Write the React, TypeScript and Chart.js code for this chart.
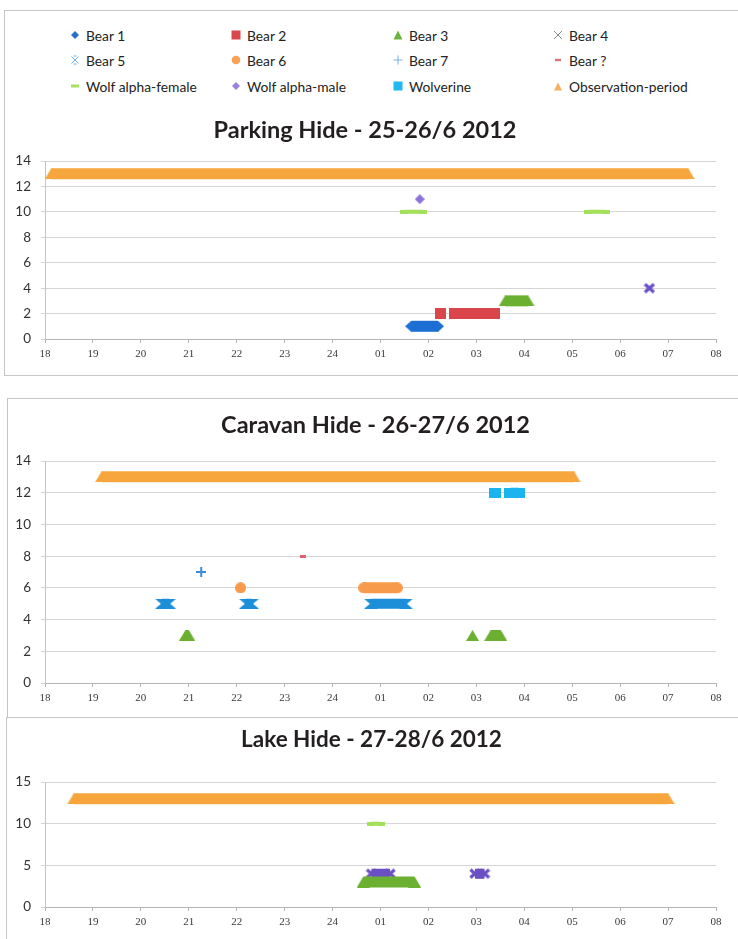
import React, { useEffect, useRef } from 'react';
import { Chart, registerables } from 'chart.js';
Chart.register(...registerables);

// ---------- data ----------
const hourLabels = ['18', '19', '20', '21', '22', '23', '24', '01', '02', '03', '04', '05', '06', '07', '08'];

const seriesNames = ['Bear 1', 'Bear 2', 'Bear 3', 'Bear 4', 'Bear 5', 'Bear 6', 'Bear 7', 'Bear ?', 'Wolf alpha-female', 'Wolf alpha-male', 'Wolverine', 'Observation-period'];
const seriesLevels = [1, 2, 3, 4, 5, 6, 7, 8, 10, 11, 12, 13];
const seriesColors = ['#1d6fd4', '#d9454a', '#6cb032', '#6a50c4', '#1c8fd8', '#f79a4c', '#3d8ad8', '#e0606c', '#a4e05a', '#8c74dc', '#1cb4ee', '#f7a63e'];

// intervals [start, end] in hours after 18:00
const parkingBear1 = [[7.64, 8.2]];
const parkingBear2 = [[8.25, 8.25], [8.54, 9.37]];
const parkingBear3 = [[9.6, 10.08]];
const parkingBear4 = [[12.61, 12.61]];
const parkingWolfFemale = [[7.48, 7.89], [11.33, 11.7]];
const parkingWolfMale = [[7.82, 7.82]];
const parkingObservation = [[0.13, 13.42]];

const caravanBear3 = [[2.93, 3.0], [8.92, 8.92], [9.3, 9.51]];
const caravanBear5 = [[2.44, 2.59], [4.19, 4.32], [6.8, 7.53]];
const caravanBear6 = [[4.08, 4.08], [6.65, 7.35]];
const caravanBear7 = [[3.26, 3.26]];
const caravanBearUnknown = [[5.38, 5.38]];
const caravanWolverine = [[9.38, 9.38], [9.71, 9.88]];
const caravanObservation = [[1.18, 11.04]];

const lakeBear3 = [[6.64, 7.71]];
const lakeBear4 = [[6.81, 7.2], [8.97, 9.17]];
const lakeWolfFemale = [[6.8, 7.0]];
const lakeObservation = [[0.6, 13.0]];

// ---------- marker styles ----------
type MarkerSpec = { kind: string; w: number; h: number; band: number };
const markerSpecs: MarkerSpec[] = [
  { kind: 'diamond', w: 12, h: 11, band: 11 },
  { kind: 'square', w: 11, h: 11, band: 11 },
  { kind: 'triangle', w: 13, h: 11, band: 11 },
  { kind: 'x', w: 12, h: 11, band: 10 },
  { kind: 'hourglass', w: 14, h: 10, band: 10 },
  { kind: 'circle', w: 11, h: 11, band: 11 },
  { kind: 'plus', w: 10, h: 10, band: 2 },
  { kind: 'dash', w: 6, h: 3, band: 3 },
  { kind: 'dash', w: 8, h: 4, band: 4 },
  { kind: 'diamond', w: 10, h: 10, band: 10 },
  { kind: 'square', w: 12, h: 10, band: 10 },
  { kind: 'triangle', w: 13, h: 11, band: 11 },
];

function markerCanvas(spec: MarkerSpec, color: string): HTMLCanvasElement {
  const { kind, w, h } = spec;
  const c = document.createElement('canvas');
  c.width = w;
  c.height = h;
  const ctx = c.getContext('2d')!;
  ctx.fillStyle = color;
  ctx.strokeStyle = color;
  ctx.beginPath();
  switch (kind) {
    case 'diamond':
      ctx.moveTo(0, h / 2); ctx.lineTo(w / 2, 0); ctx.lineTo(w, h / 2); ctx.lineTo(w / 2, h); ctx.closePath(); ctx.fill();
      break;
    case 'square':
    case 'dash':
      ctx.fillRect(0, 0, w, h);
      break;
    case 'triangle':
      ctx.moveTo(0, h); ctx.lineTo(w / 2, 0); ctx.lineTo(w, h); ctx.closePath(); ctx.fill();
      break;
    case 'circle':
      ctx.arc(w / 2, h / 2, Math.min(w, h) / 2, 0, Math.PI * 2); ctx.fill();
      break;
    case 'x':
      ctx.lineWidth = 3.2;
      ctx.moveTo(1.5, 1.5); ctx.lineTo(w - 1.5, h - 1.5);
      ctx.moveTo(w - 1.5, 1.5); ctx.lineTo(1.5, h - 1.5);
      ctx.stroke();
      break;
    case 'hourglass':
      ctx.moveTo(0, 0); ctx.lineTo(w, 0); ctx.lineTo(w / 2 + 1, h / 2); ctx.lineTo(w, h); ctx.lineTo(0, h); ctx.lineTo(w / 2 - 1, h / 2); ctx.closePath(); ctx.fill();
      break;
    case 'plus':
      ctx.lineWidth = 2;
      ctx.moveTo(w / 2, 0); ctx.lineTo(w / 2, h);
      ctx.moveTo(0, h / 2); ctx.lineTo(w, h / 2);
      ctx.stroke();
      break;
  }
  return c;
}

type SeriesIntervals = { idx: number; intervals: number[][] };

function buildDatasets(series: SeriesIntervals[]) {
  return series.map(({ idx, intervals }) => {
    const level = seriesLevels[idx];
    const pts: { x: number; y: number | null }[] = [];
    intervals.forEach(([s, e]) => {
      pts.push({ x: s, y: level });
      if (e !== s) pts.push({ x: e, y: level });
      pts.push({ x: e, y: null });
    });
    const spec = markerSpecs[idx];
    return {
      label: seriesNames[idx],
      data: pts,
      borderColor: seriesColors[idx],
      backgroundColor: seriesColors[idx],
      borderWidth: spec.band,
      borderCapStyle: 'butt' as const,
      spanGaps: false,
      tension: 0,
      pointStyle: markerCanvas(spec, seriesColors[idx]),
      pointRadius: 6,
      pointBorderWidth: 0,
      clip: false as const,
    };
  });
}

type Geo = {
  left: number; top: number; width: number; height: number;
  rightGap: number; yWidth: number; xHeight: number;
  titleSize: number; titleTop: number; titleBottom: number;
};

function HideChart({ title, series, yMax, yStep, geo }: { title: string; series: SeriesIntervals[]; yMax: number; yStep: number; geo: Geo }) {
  const ref = useRef<HTMLCanvasElement>(null);
  useEffect(() => {
    const chart = new Chart(ref.current!, {
      type: 'line',
      data: { datasets: buildDatasets(series) as any },
      options: {
        animation: false,
        responsive: false,
        events: [],
        layout: { padding: 0, autoPadding: false },
        plugins: {
          legend: { display: false },
          tooltip: { enabled: false },
          title: {
            display: true,
            text: title,
            color: '#231f20',
            font: { family: 'Lato', size: geo.titleSize, weight: 'bold' },
            padding: { top: geo.titleTop, bottom: geo.titleBottom },
          },
        },
        scales: {
          x: {
            type: 'linear',
            min: 0,
            max: 14,
            afterFit: (s: any) => { s.height = geo.xHeight; s.paddingRight = geo.rightGap; s.paddingLeft = 0; },
            ticks: {
              stepSize: 1,
              autoSkip: false,
              maxRotation: 0,
              padding: 5,
              color: '#3a3a3a',
              font: { family: 'Liberation Serif', size: 11 },
              callback: (v: any) => hourLabels[Math.round(Number(v))],
            },
            grid: { drawOnChartArea: false, drawTicks: true, tickLength: 4, color: '#b4b4b4' },
            border: { color: '#b4b4b4' },
          },
          y: {
            min: 0,
            max: yMax,
            afterFit: (s: any) => { s.width = geo.yWidth; },
            ticks: {
              stepSize: yStep,
              padding: 10,
              color: '#333',
              font: { family: 'Lato', size: 13.5 },
            },
            grid: { color: '#d6d6d6', tickLength: 4 },
            border: { color: '#c4c4c4' },
          },
        },
      } as any,
    });
    return () => chart.destroy();
  }, []);
  return (
    <canvas
      ref={ref}
      width={geo.width}
      height={geo.height}
      style={{ position: 'absolute', left: geo.left, top: geo.top, width: geo.width, height: geo.height }}
    />
  );
}

function LegendIcon({ idx }: { idx: number }) {
  const s = 10;
  const c = ['#2a6fc9', '#d9484c', '#6eb33f', '#8a8a8a', '#6bb0e0', '#f7a255', '#7ab0e0', '#e0707a', '#a8e060', '#9a80e0', '#20b8f0', '#f8b060'][idx];
  let shape: React.ReactNode = null;
  switch (idx) {
    case 0: shape = <polygon points="1,5 5,1 9,5 5,9" fill={c} />; break;
    case 1: shape = <rect x="0.5" y="0.5" width="9" height="9" fill={c} />; break;
    case 2: shape = <polygon points="0.5,9.5 5,0.5 9.5,9.5" fill={c} />; break;
    case 3: shape = <path d="M1,1 L9,9 M9,1 L1,9" stroke={c} strokeWidth="1" />; break;
    case 4: shape = <path d="M1.5,1.5 L8.5,8.5 M8.5,1.5 L1.5,8.5 M3.5,1 L6.5,1 M3.5,9 L6.5,9" stroke={c} strokeWidth="1" />; break;
    case 5: shape = <circle cx="5" cy="5" r="4.3" fill={c} />; break;
    case 6: shape = <path d="M5,0.5 L5,9.5 M0.5,5 L9.5,5" stroke={c} strokeWidth="1" />; break;
    case 7: shape = <rect x="2" y="3.8" width="6" height="2.4" fill={c} />; break;
    case 8: shape = <rect x="1" y="3.5" width="8" height="3" fill={c} />; break;
    case 9: shape = <polygon points="1,5 5,1 9,5 5,9" fill={c} />; break;
    case 10: shape = <rect x="0.5" y="0.5" width="9" height="9" fill={c} />; break;
    case 11: shape = <polygon points="1,9.5 5,1.5 9,9.5" fill={c} />; break;
  }
  return <svg width={s} height={s} style={{ display: 'block' }}>{shape}</svg>;
}

const legendCols = [75, 236, 398, 558];
const legendRows = [35, 60, 86];

export default function App() {
  const parkingSeries: SeriesIntervals[] = [
    { idx: 11, intervals: parkingObservation },
    { idx: 8, intervals: parkingWolfFemale },
    { idx: 9, intervals: parkingWolfMale },
    { idx: 1, intervals: parkingBear2 },
    { idx: 0, intervals: parkingBear1 },
    { idx: 2, intervals: parkingBear3 },
    { idx: 3, intervals: parkingBear4 },
  ];
  const caravanSeries: SeriesIntervals[] = [
    { idx: 11, intervals: caravanObservation },
    { idx: 10, intervals: caravanWolverine },
    { idx: 7, intervals: caravanBearUnknown },
    { idx: 6, intervals: caravanBear7 },
    { idx: 5, intervals: caravanBear6 },
    { idx: 4, intervals: caravanBear5 },
    { idx: 2, intervals: caravanBear3 },
  ];
  const lakeSeries: SeriesIntervals[] = [
    { idx: 11, intervals: lakeObservation },
    { idx: 8, intervals: lakeWolfFemale },
    { idx: 2, intervals: lakeBear3 },
    { idx: 3, intervals: lakeBear4 },
  ];

  const boxStyle = (left: number, top: number, height: number): React.CSSProperties => ({
    position: 'absolute', left, top, width: 760, height, border: '1px solid #c6c6c6', boxSizing: 'border-box',
  });

  return (
    <div style={{ position: 'absolute', left: 0, top: 0, width: 738, height: 939, overflow: 'hidden', background: '#fff', fontFamily: 'Lato, sans-serif' }}>
      <div style={boxStyle(4, 10, 366)} />
      <div style={boxStyle(7, 398, 320)} />
      <div style={boxStyle(6, 717, 240)} />

      {seriesNames.map((name, i) => {
        const col = i % 4;
        const row = Math.floor(i / 4);
        return (
          <div key={name} style={{ position: 'absolute', left: legendCols[col] - 5, top: legendRows[row] - 9, height: 18, display: 'flex', alignItems: 'center', gap: 6, fontSize: 13.8, color: '#222', whiteSpace: 'nowrap' }}>
            <LegendIcon idx={i} />
            <span>{name}</span>
          </div>
        );
      })}

      <HideChart
        title="Parking Hide - 25-26/6 2012"
        series={parkingSeries}
        yMax={14}
        yStep={2}
        geo={{ left: 5, top: 112, width: 720, height: 262, rightGap: 9, yWidth: 40, xHeight: 35, titleSize: 23.5, titleTop: 3.9, titleBottom: 16.9 }}
      />
      <HideChart
        title="Caravan Hide - 26-27/6 2012"
        series={caravanSeries}
        yMax={14}
        yStep={2}
        geo={{ left: 7, top: 400, width: 737, height: 316, rightGap: 28, yWidth: 38, xHeight: 33, titleSize: 23.5, titleTop: 10.9, titleBottom: 21.9 }}
      />
      <HideChart
        title="Lake Hide - 27-28/6 2012"
        series={lakeSeries}
        yMax={15}
        yStep={5}
        geo={{ left: 6, top: 719, width: 731, height: 220, rightGap: 21, yWidth: 39, xHeight: 32, titleSize: 22.5, titleTop: 7.5, titleBottom: 28.5 }}
      />
    </div>
  );
}
